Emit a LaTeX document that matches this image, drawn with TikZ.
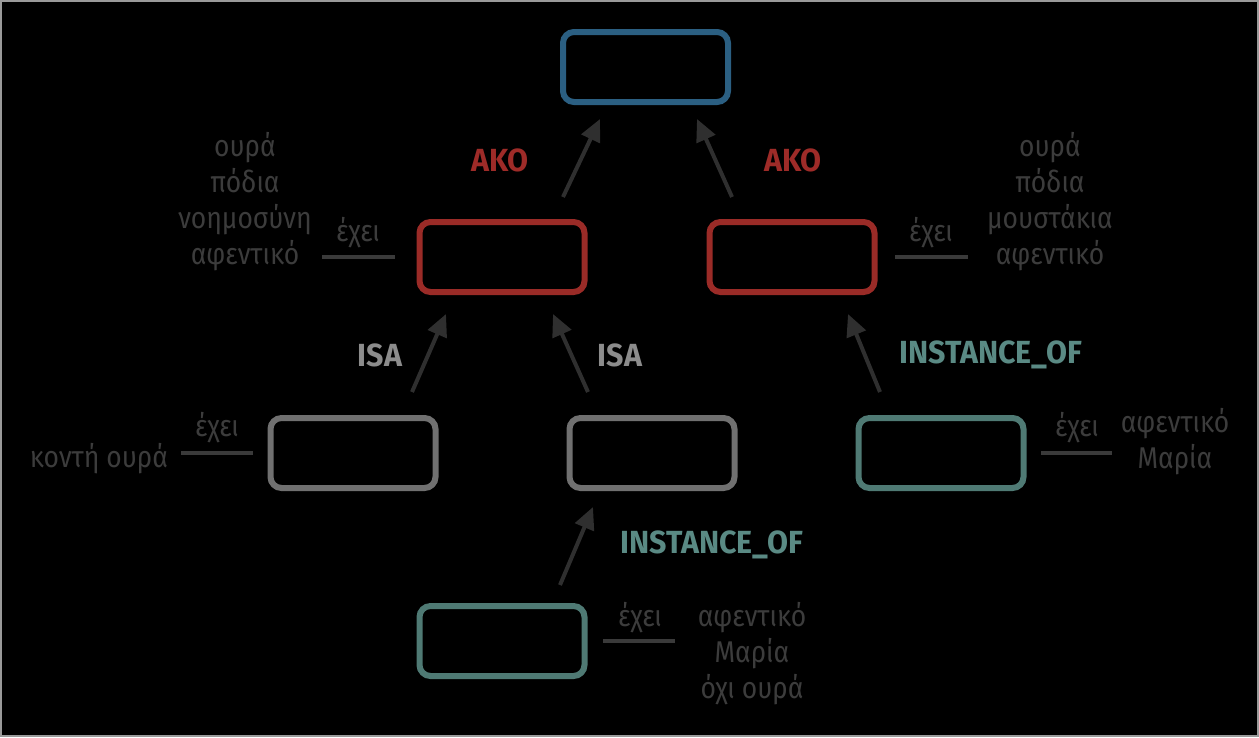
\documentclass[tikz,border=0pt]{standalone}
\usepackage{fontspec}
\setmainfont{Fira Sans}[FakeStretch=0.88]
\newfontfamily\lblfont{Fira Sans}[FakeStretch=0.95,UprightFont=* Bold]
\usetikzlibrary{arrows.meta}
\definecolor{cblue}{HTML}{2B5F82}
\definecolor{cred}{HTML}{9A2B27}
\definecolor{cgray}{HTML}{707070}
\definecolor{cteal}{HTML}{4F7A74}
\definecolor{cisa}{HTML}{8C8C8C}
\definecolor{cinst}{HTML}{5A8A84}
\definecolor{cako}{HTML}{9E2B28}
\definecolor{ctext}{HTML}{3C3C3C}
\definecolor{cline}{HTML}{3A3A3A}
\definecolor{carrow}{HTML}{2F2F2F}
\definecolor{cborder}{HTML}{9A9A9A}
\begin{document}
\begin{tikzpicture}[x=1pt,y=-1pt,
  frame/.style={draw,line width=6pt,rounded corners=11pt,minimum width=165pt,minimum height=70pt,inner sep=0pt},
  bluebox/.style={frame,draw=cblue},
  redbox/.style={frame,draw=cred},
  graybox/.style={frame,draw=cgray},
  tealbox/.style={frame,draw=cteal},
  rel/.style={draw=carrow,line width=4pt,-{Triangle[length=22pt,width=20pt]}},
  has/.style={draw=cline,line width=4pt},
  attr/.style={text=ctext,font=\fontsize{30}{36}\selectfont,align=center,inner sep=0pt},
  lbl/.style={inner sep=0pt,font=\lblfont\fontsize{32}{36}\selectfont}
]
\fill[black] (0,0) rectangle (1259,737);
\draw[cborder,line width=2pt] (1,1) rectangle (1258,736);
\useasboundingbox (0,0) rectangle (1259,737);

% boxes
\node[bluebox] (top) at (645.5,67) {};
\node[redbox] (rl) at (502,257) {};
\node[redbox] (rr) at (792,257) {};
\node[graybox] (gl) at (353,453) {};
\node[graybox] (gm) at (652,453) {};
\node[tealbox] (tr) at (941,453) {};
\node[tealbox] (tb) at (502,641) {};

% arrow end points
\coordinate (a1s) at (563,197); \coordinate (a1e) at (600,119);
\coordinate (a2s) at (732,197); \coordinate (a2e) at (697,119);
\coordinate (a3s) at (412,392); \coordinate (a3e) at (446,314);
\coordinate (a4s) at (588,392); \coordinate (a4e) at (553,314);
\coordinate (a5s) at (880,392); \coordinate (a5e) at (848,314);
\coordinate (a6s) at (560,585); \coordinate (a6e) at (593,507);
\draw[rel] (a1s) -- (a1e);
\draw[rel] (a2s) -- (a2e);
\draw[rel] (a3s) -- (a3e);
\draw[rel] (a4s) -- (a4e);
\draw[rel] (a5s) -- (a5e);
\draw[rel] (a6s) -- (a6e);

% relation labels
\node[lbl,text=cako] (l1) at (500,160) {AKO};
\node[lbl,text=cako] (l2) at (793,160) {AKO};
\node[lbl,text=cisa] (l3) at (380,355) {ISA};
\node[lbl,text=cisa] (l4) at (620,355) {ISA};
\node[lbl,text=cinst] (l5) at (991,355) {INSTANCE\_OF};
\node[lbl,text=cinst] (l6) at (712,545) {INSTANCE\_OF};

% has lines
\coordinate (h1s) at (322,257); \coordinate (h1e) at (395,257);
\coordinate (h2s) at (895,257); \coordinate (h2e) at (968,257);
\coordinate (h3s) at (181,453); \coordinate (h3e) at (253,453);
\coordinate (h4s) at (1041,453); \coordinate (h4e) at (1112,453);
\coordinate (h5s) at (603,641); \coordinate (h5e) at (675,641);
\draw[has] (h1s) -- (h1e);
\draw[has] (h2s) -- (h2e);
\draw[has] (h3s) -- (h3e);
\draw[has] (h4s) -- (h4e);
\draw[has] (h5s) -- (h5e);
\node[attr] (e1) at (358,233) {έχει};
\node[attr] (e2) at (931,233) {έχει};
\node[attr] (e3) at (217,428) {έχει};
\node[attr] (e4) at (1077,428) {έχει};
\node[attr] (e5) at (640,618) {έχει};

% attributes
\node[attr] (t1) at (245,202) {ουρά\\πόδια\\νοημοσύνη\\αφεντικό};
\node[attr] (t2) at (1050,202) {ουρά\\πόδια\\μουστάκια\\αφεντικό};
\node[attr] (t3) at (99,459) {κοντή ουρά};
\node[attr] (t4) at (1175,442) {αφεντικό\\Μαρία};
\node[attr] (t5) at (752,654) {αφεντικό\\Μαρία\\όχι ουρά};
\end{tikzpicture}
\end{document}
